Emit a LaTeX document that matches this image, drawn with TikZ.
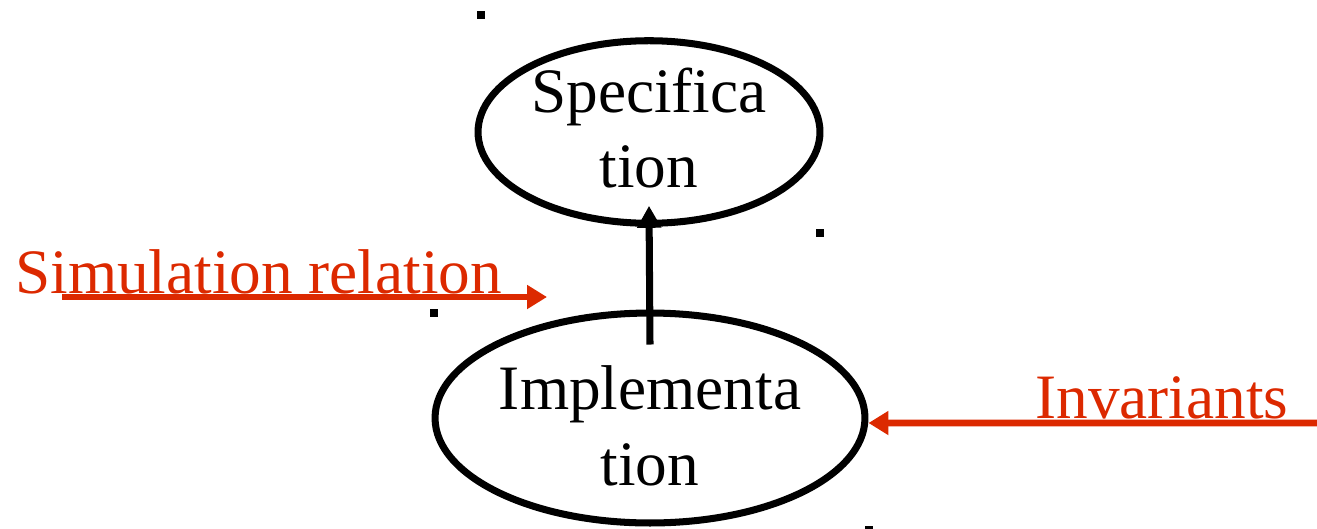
\documentclass[tikz,border=0pt]{standalone}
\usepackage{fontspec}
\setmainfont{Liberation Serif}
\usetikzlibrary{arrows.meta,shapes.geometric}
\definecolor{slidered}{RGB}{220,41,0}
\begin{document}
\begin{tikzpicture}[x=0.02cm, y=-0.02cm,
  bubble/.style={draw, ellipse, line width=4pt, inner sep=0pt, align=center, font=\fontsize{36}{43}\selectfont},
  tag/.style={text=slidered, inner sep=0pt, anchor=base west, font=\fontsize{36}{43}\selectfont},
  redarrow/.style={draw=slidered, line width=3.8pt, -{Triangle[length=0.4cm, width=0.46cm]}},
  blackarrow/.style={line width=4pt, -{Triangle[length=0.44cm, width=0.46cm]}},
  speck/.style={fill, inner sep=0pt, minimum size=0.16cm}]
\useasboundingbox (0,0) rectangle (1317,528);

\node[bubble, minimum width=6.84cm, minimum height=3.64cm] (spec) at (649,132) {Specifica\\tion\rule[-0.18cm]{0pt}{0pt}};
\node[bubble, minimum width=8.6cm, minimum height=4.2cm] (impl) at (650,418) {\rule{0pt}{1.2cm}Implementa\\tion};

\node[tag] (simlabel) at (15,293) {Simulation relation};
\node[tag] (invlabel) at (1035,418) {Invariants};

\coordinate (simstart) at (62,297);
\coordinate (simend) at (547,297);
\coordinate (invstart) at (1317,423);

\draw[blackarrow] ([yshift=-0.7cm]impl.north) -- ([yshift=0.42cm]spec.south);
\draw[redarrow] (simstart) -- (simend);
\draw[redarrow] (invstart) -- ([yshift=-0.1cm]impl.east);

% stray marks
\node[speck] (speck1) at (481,15) {};
\node[speck] (speck2) at (820,233) {};
\node[speck] (speck3) at (434,313) {};
\node[speck] (speck4) at (869,530) {};
\end{tikzpicture}
\end{document}
